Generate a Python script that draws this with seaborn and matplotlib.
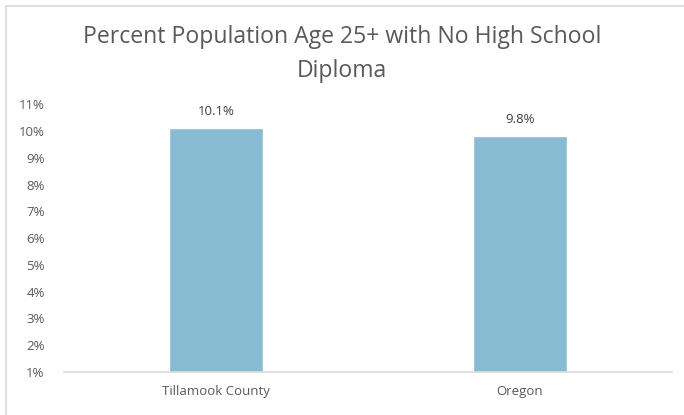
import matplotlib
matplotlib.use("Agg")
import matplotlib.pyplot as plt
import seaborn as sns
import pandas as pd
from matplotlib.patches import Rectangle

# data
categories = ["Tillamook County", "Oregon"]
values = [10.1, 9.8]
yticks = list(range(1, 12))
title_lines = ["Percent Population Age 25+ with No High School", "Diploma"]

sns.set_theme(style="white")
plt.rcParams['font.family'] = ['Open Sans', 'DejaVu Sans']

df = pd.DataFrame({"area": categories, "pct": values})

fig = plt.figure(figsize=(6.84, 4.15), dpi=100)
ax = fig.add_axes([0.0936, 0.1036, 0.8884, 0.645])

sns.barplot(data=df, x="area", y="pct", color="#88BBD1", width=0.31,
            saturation=1, ax=ax)
# bars start from the 1% baseline
for p in ax.patches:
    p.set_y(1)
    p.set_height(p.get_height() - 1)

ax.set_ylim(1, 11)
ax.set_xlim(-0.5, 1.5)
ax.set_yticks(yticks)
ax.set_yticklabels([f"{t}%" for t in yticks], color="#595959", fontsize=9.5)
ax.set_xticks(range(len(categories)))
ax.set_xticklabels(categories, color="#595959", fontsize=9.5)
ax.tick_params(axis="x", pad=9, length=0)
ax.tick_params(axis="y", pad=14, length=0)
ax.set_xlabel("")
ax.set_ylabel("")
for s in ["top", "right", "left"]:
    ax.spines[s].set_visible(False)
ax.spines["bottom"].set_color("#D9D9D9")
ax.spines["bottom"].set_linewidth(1.2)

for i, v in enumerate(values):
    ax.text(i, v + 0.4, f"{v:.1f}%", ha="center", va="bottom",
            color="#404040", fontsize=9.5)

# title, two lines placed separately
fig.text(0.5, 0.896, title_lines[0], ha="center", va="baseline",
         fontsize=16.6, color="#595959")
fig.text(0.5, 0.8145, title_lines[1], ha="center", va="baseline",
         fontsize=16.6, color="#595959")

fig.patches.append(Rectangle((0.009, -0.02), 1.2, 1.005, transform=fig.transFigure,
                             fill=False, edgecolor="#D9D9D9", linewidth=1.2))

fig.savefig("out.png", dpi=100, facecolor="white")
